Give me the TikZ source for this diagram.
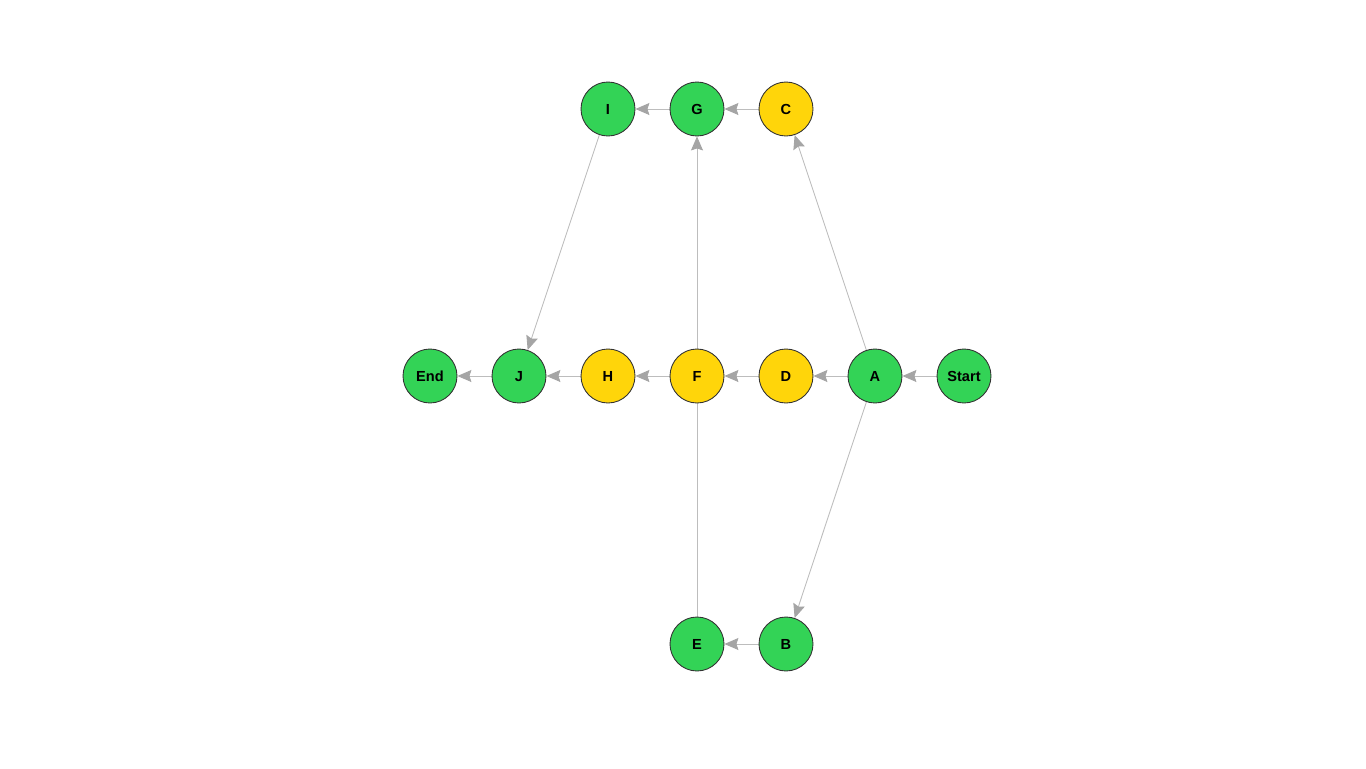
\documentclass[tikz,border=0pt]{standalone}
\usepackage{fontspec}
\setmainfont{Liberation Sans}
\usetikzlibrary{arrows.meta,backgrounds}

\definecolor{okgreen}{HTML}{33D356}
\definecolor{warnyellow}{HTML}{FFD50A}
\definecolor{edgegray}{HTML}{BDBDBD}
\definecolor{tipgray}{HTML}{A5A5A5}

\tikzset{
  task/.style={circle, draw=black!80, line width=0.5pt, minimum size=1.08cm, inner sep=0pt, text depth=0pt, font=\fontsize{8.3}{9}\selectfont\bfseries},
  ok/.style={task, fill=okgreen},
  warn/.style={task, fill=warnyellow},
  flow/.style={draw=edgegray, line width=0.5pt, -{Stealth[length=0.28cm,width=0.24cm,inset=0.04cm,color=tipgray]}}
}

\begin{document}
\begin{tikzpicture}[x=0.02cm, y=-0.02cm]
\useasboundingbox (0,0) rectangle (1366,768);

% Top row
\node[ok] (I) at (608,109) {I};
\node[ok] (G) at (697,109) {G};
\node[warn] (C) at (786,109) {C};

% Middle row
\node[ok] (End) at (430,376) {End};
\node[ok] (J) at (519,376) {J};
\node[warn] (H) at (608,376) {H};
\node[warn] (F) at (697,376) {F};
\node[warn] (D) at (786,376) {D};
\node[ok] (A) at (875,376) {A};
\node[ok] (Start) at (964,376) {Start};

% Bottom row
\node[ok] (E) at (697,644) {E};
\node[ok] (B) at (786,644) {B};

% Edges go behind the circles
\begin{scope}[on background layer]
\draw[flow] (Start) -- (A);
\draw[flow] (A) -- (D);
\draw[flow] (D) -- (F);
\draw[flow] (F) -- (H);
\draw[flow] (H) -- (J);
\draw[flow] (J) -- (End);
\draw[flow] (A) -- (C);
\draw[flow] (A) -- (B);
\draw[flow] (C) -- (G);
\draw[flow] (G) -- (I);
\draw[flow] (I) -- (J);
\draw[flow] (B) -- (E);
% E to G passes behind F
\draw[flow] (E.center) -- (G);
\end{scope}
\end{tikzpicture}
\end{document}
